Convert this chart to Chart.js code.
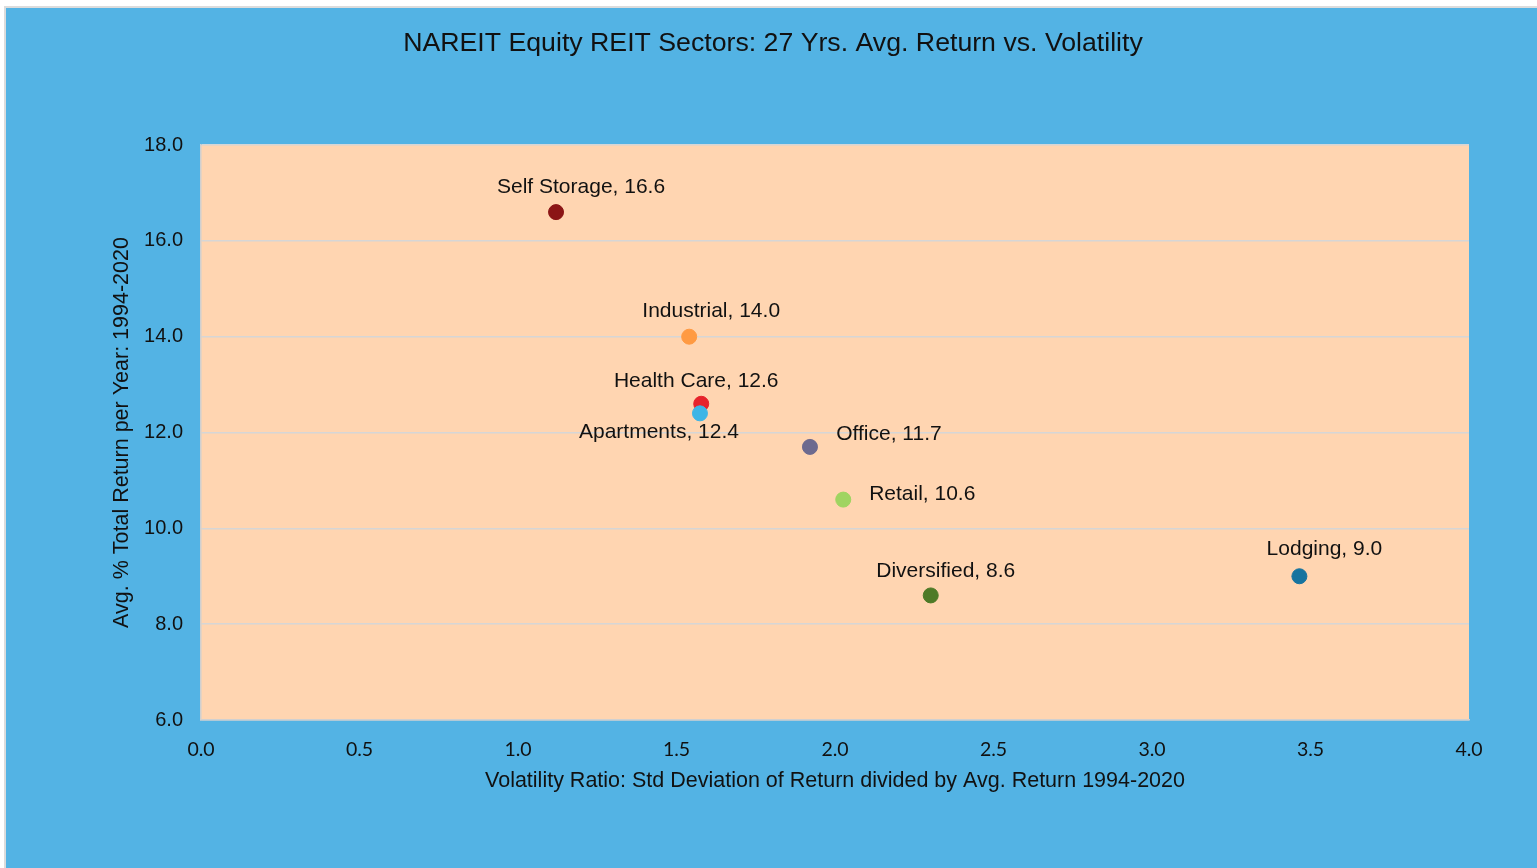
<!DOCTYPE html>
<html lang="en">
<head>
    <meta charset="UTF-8">
    <title>NAREIT Equity REIT Sectors</title>
    <script src="https://cdn.jsdelivr.net/npm/chart.js"></script>
    <style>
        html, body {
            margin: 0;
            padding: 0;
            background: #fff;
            width: 1537px;
            height: 868px;
            overflow: hidden;
        }

        .frame {
            position: absolute;
            left: 4px;
            top: 6px;
            right: 0;
            bottom: 0;
            background: #53b3e4;
            border-left: 2px solid #dcdcdc;
            border-top: 2px solid #dcdcdc;
        }

        .chart-box {
            position: absolute;
            left: 0;
            top: 0;
            width: 1537px;
            height: 868px;
        }
    </style>
</head>
<body>
    <div class="frame"></div>
    <div class="chart-box">
        <canvas id="myChart"></canvas>
    </div>
    <script>
        const sectors = ['Self Storage', 'Industrial', 'Health Care', 'Apartments', 'Office', 'Retail', 'Diversified', 'Lodging'];
        const volatility = [1.12, 1.54, 1.578, 1.574, 1.921, 2.026, 2.302, 3.465];
        const avgReturn = [16.6, 14.0, 12.6, 12.4, 11.7, 10.6, 8.6, 9.0];
        const pointColors = ['#8b1515', '#ff9a42', '#e6232b', '#3db5e6', '#6d6a8f', '#9fd461', '#4e7a27', '#17749f'];
        // label centre relative to its point, in px
        const labelDx = [25, 22, -5, -41, 79, 79, 15, 25];
        const labelDy = [-25, -25, -23, 19, -13, -5, -24, -27];

        const points = volatility.map((v, i) => ({ x: v, y: avgReturn[i] }));

        const plotBackground = {
            id: 'plotBackground',
            beforeDraw(chart) {
                const { ctx, chartArea } = chart;
                ctx.save();
                ctx.fillStyle = '#ffd5b1';
                ctx.fillRect(chartArea.left, chartArea.top, chartArea.right - chartArea.left, chartArea.bottom - chartArea.top);
                ctx.restore();
            }
        };

        const pointLabels = {
            id: 'pointLabels',
            afterDatasetsDraw(chart) {
                const ctx = chart.ctx;
                const meta = chart.getDatasetMeta(0);
                ctx.save();
                ctx.font = '21px "Liberation Sans", Arial, sans-serif';
                ctx.fillStyle = '#111';
                ctx.textAlign = 'center';
                ctx.textBaseline = 'middle';
                meta.data.forEach((pt, i) => {
                    const text = sectors[i] + ', ' + avgReturn[i].toFixed(1);
                    ctx.fillText(text, pt.x + labelDx[i], pt.y + labelDy[i]);
                });
                ctx.restore();
            }
        };

        const ctx = document.getElementById('myChart').getContext('2d');
        const chart = new Chart(ctx, {
            type: 'scatter',
            data: {
                datasets: [{
                    label: 'Sectors',
                    data: points,
                    backgroundColor: pointColors,
                    borderColor: pointColors,
                    pointRadius: 7.5,
                    pointHoverRadius: 7.5
                }]
            },
            options: {
                responsive: true,
                maintainAspectRatio: false,
                animation: false,
                layout: {
                    padding: { left: 77, right: 68, top: 0, bottom: 0 }
                },
                plugins: {
                    legend: { display: false },
                    tooltip: { enabled: false },
                    title: {
                        display: true,
                        text: 'NAREIT Equity REIT Sectors: 27 Yrs. Avg. Return vs. Volatility',
                        color: '#111',
                        font: { family: '"Liberation Sans", Arial, sans-serif', size: 26.7, weight: 'normal' },
                        padding: { top: 28, bottom: 85 }
                    }
                },
                scales: {
                    x: {
                        type: 'linear',
                        min: 0,
                        max: 4,
                        afterFit(scale) { scale.height = 148; },
                        ticks: {
                            stepSize: 0.5,
                            padding: 18,
                            color: '#111',
                            font: { family: 'Lato, sans-serif', size: 19.5 },
                            callback: v => v.toFixed(1)
                        },
                        grid: { display: false, drawTicks: false },
                        border: { display: true, color: '#d0d0d0', width: 1.5 },
                        title: {
                            display: true,
                            text: 'Volatility Ratio: Std Deviation of Return divided by Avg. Return 1994-2020',
                            color: '#111',
                            font: { family: '"Liberation Sans", Arial, sans-serif', size: 21.5 },
                            padding: { top: 4, bottom: 74 }
                        }
                    },
                    y: {
                        min: 6,
                        max: 18,
                        afterFit(scale) { scale.width = 124; },
                        ticks: {
                            stepSize: 2,
                            padding: 18,
                            color: '#111',
                            font: { family: '"Liberation Sans", Arial, sans-serif', size: 20 },
                            callback: v => v.toFixed(1)
                        },
                        grid: { color: '#d6d6d6', lineWidth: 1.5, drawTicks: false },
                        border: { display: true, color: '#d0d0d0', width: 1.5 },
                        title: {
                            display: true,
                            text: 'Avg. % Total Return per Year: 1994-2020',
                            color: '#111',
                            font: { family: '"Liberation Sans", Arial, sans-serif', size: 21.5 },
                            padding: { top: 32, bottom: 4 }
                        }
                    }
                }
            },
            plugins: [plotBackground, pointLabels]
        });
    </script>
</body>
</html>
